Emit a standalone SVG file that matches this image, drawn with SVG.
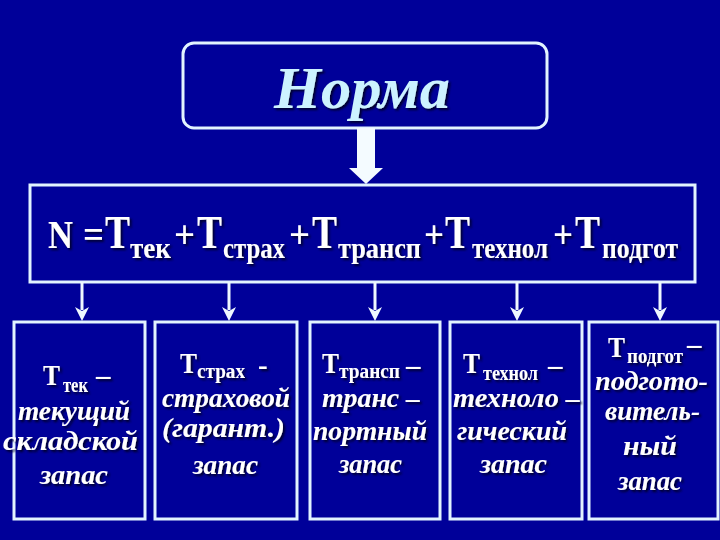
<svg xmlns="http://www.w3.org/2000/svg" width="720" height="540" viewBox="0 0 720 540">
<style>
.bg{fill:#000099}
.box{fill:#000099;stroke:#e2f3ff;stroke-width:3}
.con{stroke:#eef8ff;stroke-width:3;fill:none}
.head{fill:#eef8ff}
.t{font-family:"Liberation Serif","Times New Roman",serif;font-weight:bold;fill:#ffffff}
.it{font-family:"Liberation Serif","Times New Roman",serif;font-weight:bold;font-style:italic;fill:#ffffff}
.title{font-family:"Liberation Serif","Times New Roman",serif;font-weight:bold;font-style:italic;fill:#ccf2ff;font-size:60px}
.m{font-size:47px}
.n{font-size:40px}
.s{font-size:29px}
.bt{font-size:29px}
.bs{font-size:20px}
.bi{font-size:28px}
</style>
<defs>
<filter id="sh" x="-10%" y="-10%" width="130%" height="140%">
<feDropShadow dx="2" dy="2" stdDeviation="0.8" flood-color="#000022" flood-opacity="0.9"/>
</filter>
</defs>
<rect class="bg" x="0" y="0" width="720" height="540"/>

<g id="norma">
<rect class="box" x="183" y="43" width="364" height="85" rx="11" stroke-width="3.5"/>
<text class="title" x="362" y="108" text-anchor="middle" textLength="176" lengthAdjust="spacingAndGlyphs" filter="url(#sh)">Норма</text>
</g>

<g id="formula">
<rect class="box" x="30" y="185" width="665" height="97"/>
<g filter="url(#sh)">
<text class="t n" x="48" y="248" textLength="25" lengthAdjust="spacingAndGlyphs">N</text>
<text class="t n" x="83" y="248" textLength="21" lengthAdjust="spacingAndGlyphs">=</text>
<text class="t m" x="105" y="248" textLength="25" lengthAdjust="spacingAndGlyphs">Т</text>
<text class="t s" x="130" y="258" textLength="41" lengthAdjust="spacingAndGlyphs">тек</text>
<text class="t n" x="174" y="248" textLength="21" lengthAdjust="spacingAndGlyphs">+</text>
<text class="t m" x="197" y="248" textLength="25" lengthAdjust="spacingAndGlyphs">Т</text>
<text class="t s" x="223" y="258" textLength="62" lengthAdjust="spacingAndGlyphs">страх</text>
<text class="t n" x="289" y="248" textLength="21" lengthAdjust="spacingAndGlyphs">+</text>
<text class="t m" x="312" y="248" textLength="25" lengthAdjust="spacingAndGlyphs">Т</text>
<text class="t s" x="338" y="258" textLength="83" lengthAdjust="spacingAndGlyphs">трансп</text>
<text class="t n" x="424" y="248" textLength="20" lengthAdjust="spacingAndGlyphs">+</text>
<text class="t m" x="445" y="248" textLength="25" lengthAdjust="spacingAndGlyphs">Т</text>
<text class="t s" x="472" y="258" textLength="76" lengthAdjust="spacingAndGlyphs">технол</text>
<text class="t n" x="553" y="248" textLength="20" lengthAdjust="spacingAndGlyphs">+</text>
<text class="t m" x="575" y="248" textLength="25" lengthAdjust="spacingAndGlyphs">Т</text>
<text class="t s" x="602" y="258" textLength="76" lengthAdjust="spacingAndGlyphs">подгот</text>
</g>
</g>

<g id="connectors">
<path d="M357 128 H375 V168 H383 L366 184 L349 168 H357 Z" fill="#f4fbff"/>
<line class="con" x1="82" y1="282" x2="82" y2="310"/>
<path class="head" d="M75 307 L82 321 L89 307 L82 311 Z"/>
<line class="con" x1="229" y1="282" x2="229" y2="310"/>
<path class="head" d="M222 307 L229 321 L236 307 L229 311 Z"/>
<line class="con" x1="375" y1="282" x2="375" y2="310"/>
<path class="head" d="M368 307 L375 321 L382 307 L375 311 Z"/>
<line class="con" x1="517" y1="282" x2="517" y2="310"/>
<path class="head" d="M510 307 L517 321 L524 307 L517 311 Z"/>
<line class="con" x1="660" y1="282" x2="660" y2="310"/>
<path class="head" d="M653 307 L660 321 L667 307 L660 311 Z"/>
</g>

<g id="tek">
<rect class="box" x="14" y="322" width="131" height="197"/>
<g filter="url(#sh)">
<text class="t bt" x="43" y="385" textLength="17" lengthAdjust="spacingAndGlyphs">Т</text>
<text class="t bs" x="63" y="392" textLength="25" lengthAdjust="spacingAndGlyphs">тек</text>
<text class="t bt" x="96" y="385">–</text>
<text class="it bi" x="18" y="420" textLength="112" lengthAdjust="spacingAndGlyphs">текущий</text>
<text class="it bi" x="3" y="450" textLength="135" lengthAdjust="spacingAndGlyphs">складской</text>
<text class="it bi" x="40" y="484" textLength="68" lengthAdjust="spacingAndGlyphs">запас</text>
</g>
</g>

<g id="strah">
<rect class="box" x="155" y="322" width="142" height="197"/>
<g filter="url(#sh)">
<text class="t bt" x="180" y="373" textLength="17" lengthAdjust="spacingAndGlyphs">Т</text>
<text class="t bs" x="197" y="378" textLength="48" lengthAdjust="spacingAndGlyphs">страх</text>
<text class="t bt" x="258" y="375">-</text>
<text class="it bi" x="162" y="407" textLength="128" lengthAdjust="spacingAndGlyphs">страховой</text>
<text class="it bi" x="162" y="437" textLength="123" lengthAdjust="spacingAndGlyphs">(гарант.)</text>
<text class="it bi" x="193" y="474" textLength="65" lengthAdjust="spacingAndGlyphs">запас</text>
</g>
</g>

<g id="transp">
<rect class="box" x="310" y="322" width="130" height="197"/>
<g filter="url(#sh)">
<text class="t bt" x="322" y="373" textLength="17" lengthAdjust="spacingAndGlyphs">Т</text>
<text class="t bs" x="339" y="378" textLength="61" lengthAdjust="spacingAndGlyphs">трансп</text>
<text class="t bt" x="406" y="375">–</text>
<text class="it bi" x="322" y="407" textLength="98" lengthAdjust="spacingAndGlyphs">транс –</text>
<text class="it bi" x="313" y="440" textLength="114" lengthAdjust="spacingAndGlyphs">портный</text>
<text class="it bi" x="339" y="473" textLength="63" lengthAdjust="spacingAndGlyphs">запас</text>
</g>
</g>

<g id="tehnol">
<rect class="box" x="450" y="322" width="132" height="197"/>
<g filter="url(#sh)">
<text class="t bt" x="463" y="373" textLength="17" lengthAdjust="spacingAndGlyphs">Т</text>
<text class="t bs" x="483" y="380" textLength="55" lengthAdjust="spacingAndGlyphs">технол</text>
<text class="t bt" x="548" y="375">–</text>
<text class="it bi" x="453" y="407" textLength="127" lengthAdjust="spacingAndGlyphs">техноло –</text>
<text class="it bi" x="457" y="440" textLength="110" lengthAdjust="spacingAndGlyphs">гический</text>
<text class="it bi" x="480" y="473" textLength="67" lengthAdjust="spacingAndGlyphs">запас</text>
</g>
</g>

<g id="podgot">
<rect class="box" x="589" y="322" width="129" height="197"/>
<g filter="url(#sh)">
<text class="t bt" x="608" y="357" textLength="17" lengthAdjust="spacingAndGlyphs">Т</text>
<text class="t bs" x="627" y="363" textLength="56" lengthAdjust="spacingAndGlyphs">подгот</text>
<text class="t bt" x="687" y="354">–</text>
<text class="it bi" x="595" y="390" textLength="113" lengthAdjust="spacingAndGlyphs">подгото-</text>
<text class="it bi" x="605" y="420" textLength="95" lengthAdjust="spacingAndGlyphs">витель-</text>
<text class="it bi" x="623" y="455" textLength="54" lengthAdjust="spacingAndGlyphs">ный</text>
<text class="it bi" x="618" y="490" textLength="64" lengthAdjust="spacingAndGlyphs">запас</text>
</g>
</g>
</svg>
